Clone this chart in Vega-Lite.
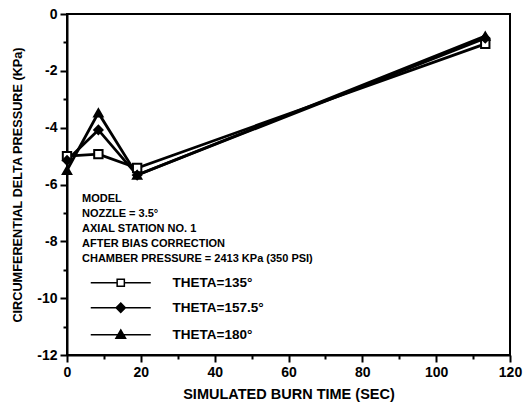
{
  "$schema": "https://vega.github.io/schema/vega-lite/v6.json",
  "width": 443,
  "height": 341,
  "autosize": "none",
  "padding": {"left": 67, "top": 14, "right": 14, "bottom": 53},
  "background": "white",
  "config": {
    "view": {"stroke": "black", "strokeWidth": 2},
    "font": "Liberation Sans",
    "axis": {
      "domainColor": "black", "domainWidth": 2, "tickColor": "black", "tickWidth": 2,
      "labelColor": "black", "labelFont": "Liberation Sans", "labelFontWeight": "bold", "labelFontSize": 14,
      "titleColor": "black", "titleFont": "Liberation Sans", "titleFontWeight": "bold",
      "grid": false
    }
  },
  "data": {
    "values": [
      {"time": 0, "pressure": -5.0, "theta": "135"},
      {"time": 8.5, "pressure": -4.93, "theta": "135"},
      {"time": 19, "pressure": -5.42, "theta": "135"},
      {"time": 113.3, "pressure": -1.05, "theta": "135"},
      {"time": 0, "pressure": -5.15, "theta": "157.5"},
      {"time": 8.5, "pressure": -4.08, "theta": "157.5"},
      {"time": 19, "pressure": -5.67, "theta": "157.5"},
      {"time": 113.3, "pressure": -0.85, "theta": "157.5"},
      {"time": 0, "pressure": -5.5, "theta": "180"},
      {"time": 8.5, "pressure": -3.48, "theta": "180"},
      {"time": 19, "pressure": -5.67, "theta": "180"},
      {"time": 113.3, "pressure": -0.78, "theta": "180"}
    ]
  },
  "encoding": {
    "x": {
      "field": "time", "type": "quantitative",
      "scale": {"domain": [0, 120], "nice": false},
      "axis": {
        "title": "SIMULATED BURN TIME (SEC)",
        "titleFontSize": 14.5,
        "values": [0, 10, 20, 30, 40, 50, 60, 70, 80, 90, 100, 110, 120],
        "labelExpr": "datum.value % 20 === 0 ? '' + datum.value : ''",
        "tickSize": {"condition": {"test": "datum.value % 20 === 0", "value": 7}, "value": 4},
        "labelPadding": 3,
        "titlePadding": 8,
        "labelFlush": false
      }
    },
    "y": {
      "field": "pressure", "type": "quantitative",
      "scale": {"domain": [-12, 0], "nice": false},
      "axis": {
        "title": "CIRCUMFERENTIAL DELTA PRESSURE (KPa)",
        "titleFontSize": 12.7,
        "values": [-12, -11, -10, -9, -8, -7, -6, -5, -4, -3, -2, -1, 0],
        "labelExpr": "datum.value % 2 === 0 ? '' + datum.value : ''",
        "tickSize": {"condition": {"test": "datum.value % 2 === 0", "value": 7}, "value": 4},
        "labelPadding": 3,
        "titlePadding": 12,
        "labelFlush": false
      }
    }
  },
  "layer": [
    {
      "mark": {"type": "line", "color": "black", "strokeWidth": 2.8},
      "encoding": {"detail": {"field": "theta", "type": "nominal"}}
    },
    {
      "transform": [{"filter": "datum.theta === '135'"}],
      "mark": {"type": "point", "shape": "square", "filled": true, "fill": "white", "stroke": "black", "strokeWidth": 2, "size": 70, "opacity": 1}
    },
    {
      "transform": [{"filter": "datum.theta === '157.5'"}],
      "mark": {"type": "point", "shape": "diamond", "filled": true, "fill": "black", "stroke": "black", "strokeWidth": 2, "size": 70, "opacity": 1}
    },
    {
      "transform": [{"filter": "datum.theta === '180'"}],
      "mark": {"type": "point", "shape": "triangle-up", "filled": true, "fill": "black", "stroke": "black", "strokeWidth": 2, "size": 70, "opacity": 1}
    },
    {
      "transform": [{"filter": "false"}],
      "mark": {"type": "point", "filled": true, "stroke": "black", "strokeWidth": 2, "size": 64, "opacity": 1},
      "encoding": {
        "shape": {
          "field": "theta", "type": "nominal",
          "scale": {"domain": ["135", "157.5", "180"], "range": ["M-7.5,0H-0.9M0.9,0H7.5M-0.9,-0.9H0.9V0.9H-0.9Z", "M-7.5,0H7.5M0,-1.15L1.15,0L0,1.15L-1.15,0Z", "M-7.5,0H7.5M0,-1.2L1.2,0.9H-1.2Z"]},
          "legend": {
            "orient": "none",
            "legendX": 15,
            "legendY": 179,
            "padding": 0,
            "title": ["MODEL", "NOZZLE = 3.5°", "AXIAL STATION NO. 1", "AFTER BIAS CORRECTION", "CHAMBER PRESSURE = 2413 KPa (350 PSI)"],
            "titleFont": "Liberation Sans",
            "titleFontWeight": "bold",
            "titleFontSize": 11,
            "titleLineHeight": 15,
            "titleColor": "black",
            "titleAnchor": "start",
            "titleLimit": 500,
            "titlePadding": 12,
            "labelFont": "Liberation Sans",
            "labelFontWeight": "bold",
            "labelFontSize": 13.5,
            "labelColor": "black",
            "labelExpr": "'THETA=' + datum.label + '°'",
            "labelOffset": 45,
            "labelLimit": 300,
            "symbolSize": 64,
            "symbolOffset": 32,
            "rowPadding": 10,
            "encode": {
              "symbols": {
                "stroke": {"value": "black"},
                "strokeWidth": {"value": 2},
                "opacity": {"value": 1}
              }
            }
          }
        },
        "fill": {
          "field": "theta", "type": "nominal",
          "scale": {"domain": ["135", "157.5", "180"], "range": ["white", "black", "black"]},
          "legend": {
            "title": ["MODEL", "NOZZLE = 3.5°", "AXIAL STATION NO. 1", "AFTER BIAS CORRECTION", "CHAMBER PRESSURE = 2413 KPa (350 PSI)"]
          }
        }
      }
    }
  ]
}
